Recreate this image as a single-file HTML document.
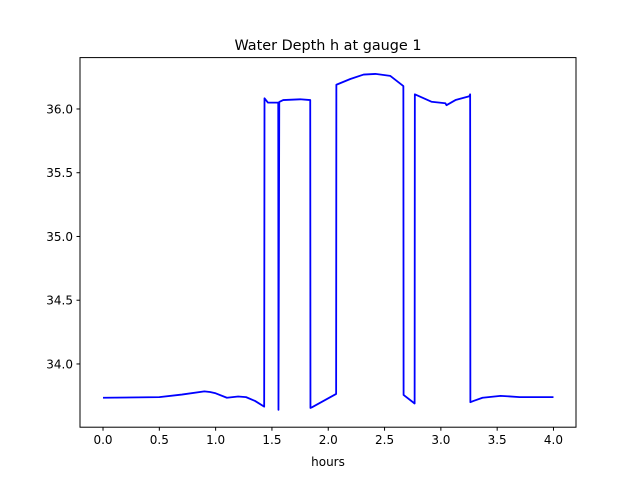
<!DOCTYPE html>
<html><head><meta charset="utf-8"><style>
body{margin:0;background:#fff;font-family:"Liberation Sans","DejaVu Sans",sans-serif}
svg text{font-family:"DejaVu Sans","Liberation Sans",sans-serif}
</style></head><body>
<svg id="chart" width="640" height="480">
<rect width="640" height="480" fill="#fff"/>
<text x="328" y="50" text-anchor="middle" font-size="14.4">Water Depth h at gauge 1</text>
<g id="plot"></g>
<rect x="80" y="57.6" width="496" height="369.6" fill="none" stroke="#000" stroke-width="1"/>
<text x="328" y="466" text-anchor="middle" font-size="12">hours</text>
</svg>
<script>
const xTicks=[0,0.5,1,1.5,2,2.5,3,3.5,4];
const xTickLabels=["0.0","0.5","1.0","1.5","2.0","2.5","3.0","3.5","4.0"];
const yTicks=[34,34.5,35,35.5,36];
const yTickLabels=["34.0","34.5","35.0","35.5","36.0"];
const hours=[0,0.5,0.7,0.9,0.95,1.0,1.1,1.2,1.27,1.35,1.431,1.434,1.464,1.54,1.556,1.558,1.565,1.6,1.75,1.84,1.842,1.855,2.07,2.072,2.196,2.314,2.418,2.55,2.667,2.669,2.767,2.769,2.916,3.04,3.05,3.13,3.253,3.26,3.262,3.29,3.37,3.53,3.7,4.0];
const depth=[33.735,33.74,33.76,33.785,33.78,33.77,33.735,33.745,33.74,33.71,33.665,36.084,36.05,36.05,36.05,33.64,36.055,36.07,36.076,36.07,33.655,33.66,33.765,36.19,36.235,36.27,36.275,36.26,36.18,33.757,33.69,36.115,36.057,36.045,36.03,36.07,36.1,36.115,33.70,33.71,33.735,33.75,33.74,33.74];
const L=80,R=576,T=57.6,B=427.2,xmin=-0.2044,xmax=4.2,ymin=33.504,ymax=36.403;
const sx=v=>L+(v-xmin)/(xmax-xmin)*(R-L);
const sy=v=>B-(v-ymin)/(ymax-ymin)*(B-T);
const NS="http://www.w3.org/2000/svg",g=document.getElementById('plot');
function mk(t,a){const e=document.createElementNS(NS,t);for(const k in a)e.setAttribute(k,a[k]);g.appendChild(e);return e;}
xTicks.forEach((v,i)=>{
 const t=mk('line',{x1:sx(v),x2:sx(v),y1:B,y2:B+3.5,stroke:'#000'});
 
 
 const l=mk('text',{x:sx(v),y:B+17,'text-anchor':'middle','font-size':'12'});
 l.textContent=xTickLabels[i];
 
 
});
yTicks.forEach((v,i)=>{
 const t=mk('line',{x1:L-3.5,x2:L,y1:sy(v),y2:sy(v),stroke:'#000'});
 
 
 const l=mk('text',{x:L-7,y:sy(v)+4.5,'text-anchor':'end','font-size':'12'});
 l.textContent=yTickLabels[i];
 
 
});
const p=mk('polyline',{points:hours.map((h,i)=>sx(h)+','+sy(depth[i])).join(' '),fill:'none',stroke:'#0000ff','stroke-width':'1.8','stroke-linejoin':'round'});


</script>
</body></html>
